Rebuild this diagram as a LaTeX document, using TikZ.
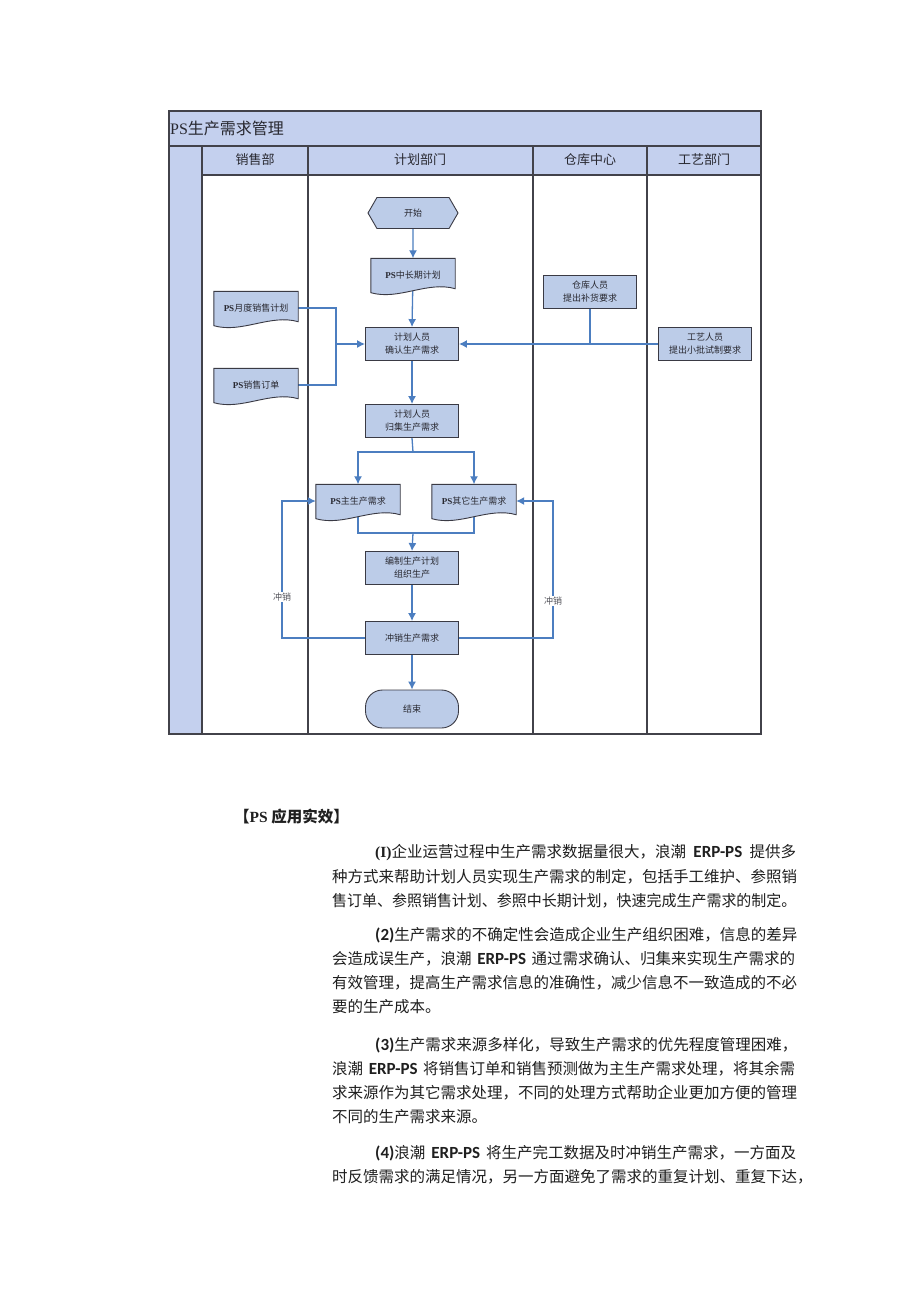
\documentclass[tikz,border=0pt]{standalone}
\usepackage{fontspec}
\setmainfont{Liberation Serif}
\newfontfamily\cjk{Noto Sans CJK SC}
\newfontfamily\lat{Carlito}
\usetikzlibrary{shapes.symbols,arrows.meta}
\definecolor{lanefill}{RGB}{196,208,238}
\definecolor{nodefill}{RGB}{188,204,232}
\definecolor{linkc}{RGB}{76,126,192}
\definecolor{framec}{RGB}{66,66,74}
\definecolor{boxc}{RGB}{58,58,68}
\definecolor{txtc}{RGB}{40,40,48}
\newcommand\PSb{{\rmfamily\bfseries PS}}
\newcommand\ERP{{\lat\bfseries\fontsize{17}{18}\selectfont ERP-PS}}
\pgfdeclarelayer{frame}
\pgfdeclarelayer{links}
\pgfdeclarelayer{shapes}
\pgfsetlayers{frame,links,shapes,main}
\tikzset{
  nodefont/.style={font=\cjk\fontsize{9}{13}\selectfont, text=txtc},
  proc/.style={nodefont, draw=boxc, fill=nodefill, line width=0.9pt, minimum width=93pt, minimum height=33pt, inner sep=1pt, align=center},
  term/.style={nodefont, shape=signal, signal to=east and west, signal pointer angle=120, draw=boxc, fill=nodefill, line width=0.9pt, minimum width=90pt, minimum height=31pt, inner sep=1pt},
  doctext/.style={nodefont, minimum width=84pt, minimum height=33pt, inner sep=0pt},
  docsh/.style={draw=boxc, fill=nodefill, line width=0.9pt},
  link/.style={draw=linkc, line width=1.3pt},
  arr/.style={link, -{Latex[length=8pt,width=8pt]}},
  lab/.style={nodefont, fill=white, inner sep=1pt, text=txtc!80},
  hdr/.style={font=\cjk\fontsize{13}{15}\selectfont, text=txtc},
  para/.style={anchor=west, inner sep=0pt, font=\cjk\fontsize{15.5}{18}\selectfont, text=black!88},
}
\begin{document}
\begin{tikzpicture}[x=1pt,y=-1pt]
\useasboundingbox (0,0) rectangle (920,1301);

\begin{pgfonlayer}{frame}
\fill[white] (0,0) rectangle (920,1301);
\fill[lanefill] (169,111) rectangle (761,175);
\fill[lanefill] (169,175) rectangle (202,734);
\draw[framec, line width=1.2pt] (169,111) rectangle (761,734);
\draw[framec, line width=1.2pt] (169,146) -- (761,146);
\draw[framec, line width=1.2pt] (202,175) -- (761,175);
\foreach \x in {202,308,533,647} \draw[framec, line width=1.2pt] (\x,146) -- (\x,734);
\end{pgfonlayer}

\node[anchor=west, inner sep=0pt, font=\cjk\fontsize{16}{18}\selectfont, text=txtc] (title) at (170,128) {{\rmfamily PS}生产需求管理};
\node[hdr] (hS) at (255,160) {销售部};
\node[hdr] (hP) at (420,160) {计划部门};
\node[hdr] (hW) at (590,160) {仓库中心};
\node[hdr] (hT) at (704,160) {工艺部门};

\node[term] (start) at (413,213) {开始};
\node[doctext] (lt) at (413,275) {\PSb 中长期计划};
\node[doctext] (mon) at (256,308) {\PSb 月度销售计划};
\node[doctext] (ord) at (256,385) {\PSb 销售订单};
\node[proc] (confirm) at (412,344) {计划人员\\确认生产需求};
\node[proc] (wh) at (590,292) {仓库人员\\提出补货要求};
\node[proc] (tech) at (705,344) {工艺人员\\提出小批试制要求};
\node[proc] (coll) at (412,421) {计划人员\\归集生产需求};
\node[doctext] (main) at (358,501) {\PSb 主生产需求};
\node[doctext] (other) at (474,501) {\PSb 其它生产需求};
\node[proc] (plan) at (412,568) {编制生产计划\\组织生产};
\node[proc] (off) at (412,638) {冲销生产需求};
\node[proc, rounded corners=17pt, minimum height=38pt] (end) at (412,709) {结束};

\coordinate (jL) at (336,344);
\coordinate (jB) at (413,452);
\coordinate (jC) at (413,533);
\coordinate (cL) at (282,638);
\coordinate (cR) at (553,638);

\begin{pgfonlayer}{shapes}
\foreach \n in {lt,mon,ord,main,other}
  \path[docsh] (\n.north west) -- (\n.north east) -- ([yshift=3pt]\n.south east)
    .. controls ([xshift=-28pt,yshift=11pt]\n.south east) and ([xshift=28pt,yshift=-9pt]\n.south west) ..
    ([yshift=-1pt]\n.south west) -- cycle;
\end{pgfonlayer}

\begin{pgfonlayer}{links}
\draw[arr] (start) -- (lt);
\draw[arr] (lt.center) -- (confirm.north);
\draw[link] (mon.east) -| (jL);
\draw[link] (ord.east) -| (jL);
\draw[arr] (jL) -- (confirm.west);
\draw[arr] (tech.west) -- (confirm.east);
\draw[link] (wh.south) -- (wh.south |- confirm.east);
\draw[arr] (confirm) -- (coll);
\draw[link] (coll.south) -- (jB);
\draw[arr] (jB) -| (main.north);
\draw[arr] (jB) -| (other.north);
\draw[link] (main.center) |- (jC);
\draw[link] (other.center) |- (jC);
\draw[arr] (jC) -- (plan.north);
\draw[arr] (plan) -- (off);
\draw[arr] (off.west) -- (cL) -- node[lab, pos=0.3] (lL) {冲销} (cL |- main.west) -- (main.west);
\draw[arr] (off.east) -- (cR) -- node[lab, pos=0.27] (lR) {冲销} (cR |- other.east) -- (other.east);
\draw[arr] (off) -- (end);
\end{pgfonlayer}

\node[anchor=west, inner sep=0pt, font=\cjk\bfseries\fontsize{15.5}{18}\selectfont, text=black!88] (ptitle) at (234,817) {【{\rmfamily\bfseries PS} 应用实效】};

\node[para] (p1a) at (375,853) {\makebox[421pt][s]{{\rmfamily\bfseries (I)}企业运营过程中生产需求数据量很大，浪潮 \ERP{} 提供多}};
\node[para] (p1b) at (332,877) {种方式来帮助计划人员实现生产需求的制定，包括手工维护、参照销};
\node[para] (p1c) at (332,901) {\scalebox{0.966}[1]{售订单、参照销售计划、参照中长期计划，快速完成生产需求的制定。}};

\node[para] (p2a) at (375,935) {{\lat\bfseries\fontsize{17}{18}\selectfont (2)}生产需求的不确定性会造成企业生产组织困难，信息的差异};
\node[para] (p2b) at (332,959) {\makebox[463pt][s]{会造成误生产，浪潮 \ERP{} 通过需求确认、归集来实现生产需求的}};
\node[para] (p2c) at (332,983) {有效管理，提高生产需求信息的准确性，减少信息不一致造成的不必};
\node[para] (p2d) at (332,1007) {要的生产成本。};

\node[para] (p3a) at (375,1045) {{\lat\bfseries\fontsize{17}{18}\selectfont (3)}生产需求来源多样化，导致生产需求的优先程度管理困难，};
\node[para] (p3b) at (332,1069) {\makebox[463pt][s]{浪潮 \ERP{} 将销售订单和销售预测做为主生产需求处理，将其余需}};
\node[para] (p3c) at (332,1093) {求来源作为其它需求处理，不同的处理方式帮助企业更加方便的管理};
\node[para] (p3d) at (332,1117) {不同的生产需求来源。};

\node[para] (p4a) at (375,1153) {\makebox[421pt][s]{{\lat\bfseries\fontsize{17}{18}\selectfont (4)}浪潮 \ERP{} 将生产完工数据及时冲销生产需求，一方面及}};
\node[para] (p4b) at (332,1177) {时反馈需求的满足情况，另一方面避免了需求的重复计划、重复下达，};
\end{tikzpicture}
\end{document}
